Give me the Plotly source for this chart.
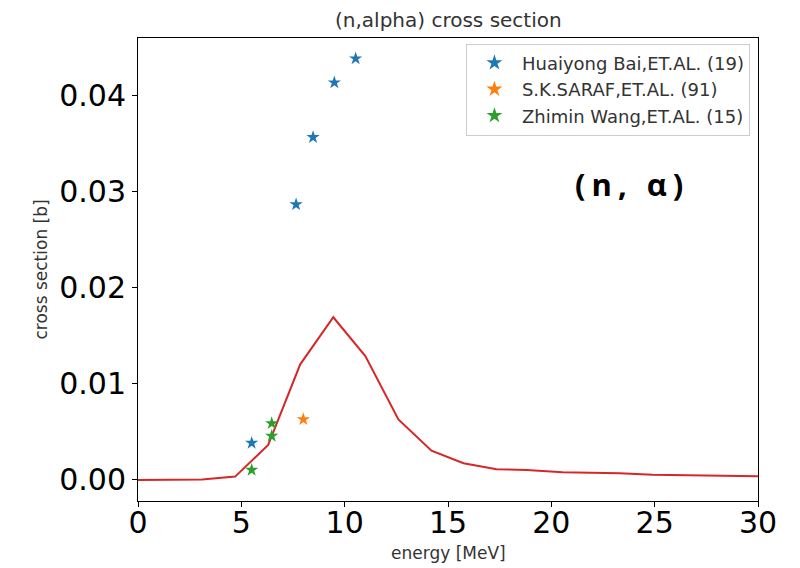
import plotly.graph_objects as go

# Evaluated cross section (red line)
eval_energy = [0.0, 3.1, 4.7, 6.3, 7.85, 9.45, 11.0, 12.6, 14.2, 15.75, 17.35, 18.8, 20.55, 23.3, 24.9, 30.0]
eval_xs = [0.0, 0.00005, 0.00035, 0.00365, 0.01205, 0.01695, 0.0129, 0.0063, 0.00305, 0.00174, 0.00112, 0.00104, 0.0008, 0.0007, 0.00055, 0.0004]

# Experimental data
bai_energy = [5.5, 7.65, 8.47, 9.5, 10.53]
bai_xs = [0.00385, 0.0287, 0.0357, 0.0414, 0.0439]
saraf_energy = [8.0]
saraf_xs = [0.00632]
wang_energy = [5.5, 6.47, 6.47]
wang_xs = [0.00104, 0.0059, 0.00458]

series_names = ["Huaiyong Bai,ET.AL. (19)", "S.K.SARAF,ET.AL. (91)", "Zhimin Wang,ET.AL. (15)"]
x_ticks = [0, 5, 10, 15, 20, 25, 30]
y_ticks = [0.0, 0.01, 0.02, 0.03, 0.04]

fig = go.Figure()
fig.add_trace(go.Scatter(x=eval_energy, y=eval_xs, mode="lines",
                         line=dict(color="#d62728", width=2), showlegend=False))
for i, (name, xs, ys, col) in enumerate([
    (series_names[0], bai_energy, bai_xs, "#1f77b4"),
    (series_names[1], saraf_energy, saraf_xs, "#ff7f0e"),
    (series_names[2], wang_energy, wang_xs, "#2ca02c"),
]):
    fig.add_trace(go.Scatter(x=xs, y=ys, mode="markers", name=name, legendgroup=f"g{i}",
                             marker=dict(symbol="star", size=10, color=col, line=dict(width=0))))

axis_common = dict(showline=True, linecolor="black", linewidth=1, mirror=True,
                   ticks="outside", ticklen=5, tickwidth=1, tickcolor="black",
                   showgrid=False, zeroline=False,
                   tickfont=dict(family="DejaVu Sans", size=30, color="black"))

fig.update_layout(
    width=800, height=568,
    margin=dict(l=138, r=42, t=38, b=67),
    paper_bgcolor="white", plot_bgcolor="white",
    xaxis=dict(range=[0, 30], tickvals=x_ticks, ticktext=[str(v) for v in x_ticks],
               ticklabelstandoff=-10, **axis_common),
    yaxis=dict(range=[-0.00219, 0.04604], tickvals=y_ticks, ticktext=[f"{v:.2f}" for v in y_ticks], **axis_common),
    legend=dict(x=0.987, y=0.988, xanchor="right", yanchor="top",
                bgcolor="white", bordercolor="#cccccc", borderwidth=1,
                font=dict(family="DejaVu Sans", size=18, color="#333333"),
                traceorder="grouped", tracegroupgap=0, itemwidth=45,
                itemsizing="constant"),
    showlegend=True,
)

fig.add_annotation(text="(n,alpha) cross section", xref="paper", yref="paper",
                   x=0.5, y=1.039, xanchor="center", yanchor="middle", showarrow=False,
                   font=dict(family="DejaVu Sans", size=20, color="#333333"))
fig.add_annotation(text="energy [MeV]", xref="paper", yref="paper",
                   x=0.5, y=-0.112, xanchor="center", yanchor="middle", showarrow=False,
                   font=dict(family="DejaVu Sans", size=17, color="#333333"))
fig.add_annotation(text="cross section [b]", xref="paper", yref="paper",
                   x=-0.158, y=0.50, xanchor="center", yanchor="middle", showarrow=False,
                   textangle=-90,
                   font=dict(family="DejaVu Sans", size=17, color="#333333"))
fig.add_annotation(text="<b><span style=\"letter-spacing:6px\">(n, α)</span></b>", xref="paper", yref="paper",
                   x=0.7975, y=0.684, xanchor="center", yanchor="middle", showarrow=False,
                   font=dict(family="Open Sans", size=31, color="black"))

fig.write_html("out.html")
